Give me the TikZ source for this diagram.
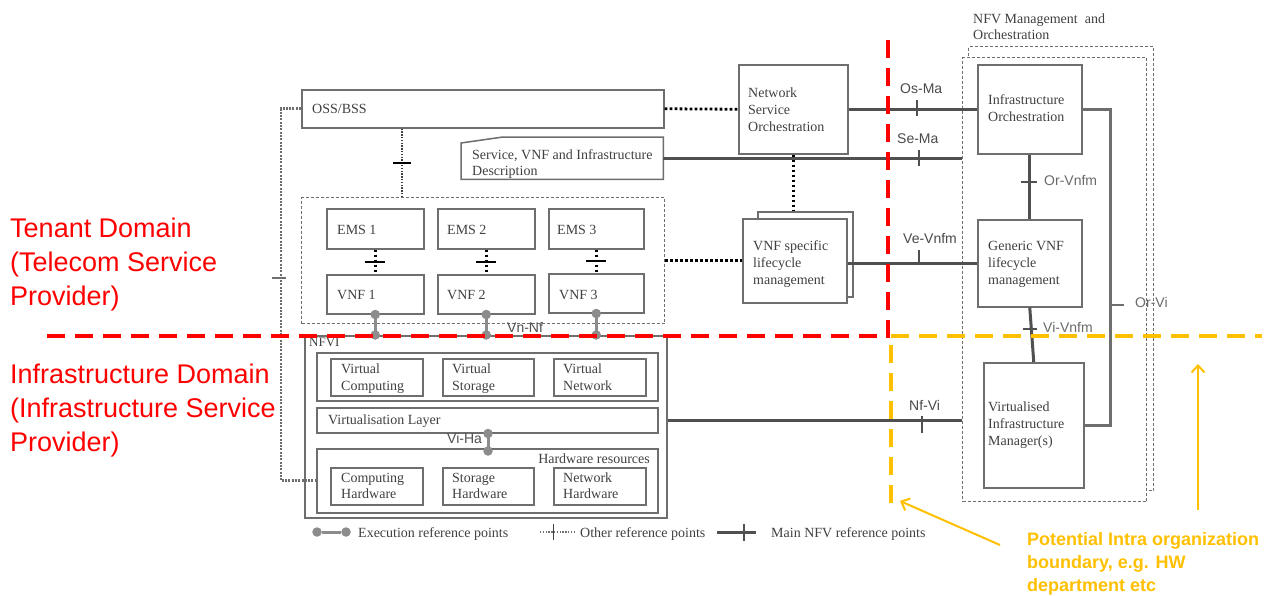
\documentclass[tikz,border=0pt]{standalone}
\usepackage{fontspec}
\setmainfont{Liberation Serif}
\newfontfamily\arialf{Liberation Sans}
\usetikzlibrary{arrows.meta,calc}
\definecolor{boxc}{HTML}{6E6E6E}
\definecolor{txtc}{HTML}{404040}
\definecolor{mainc}{HTML}{505050}
\definecolor{execc}{HTML}{8C8C8C}
\definecolor{redc}{HTML}{FF0000}
\definecolor{yelc}{HTML}{FFC000}
\definecolor{ifc}{HTML}{4A4A4A}
\definecolor{ifl}{HTML}{6A6A6A}
\begin{document}
\begin{tikzpicture}[x=1pt,y=-1pt,
  box/.style={draw=boxc, line width=1.5pt, fill=white, inner sep=0pt, anchor=north west},
  dbox/.style={draw=boxc, line width=1pt, dash pattern=on 3pt off 2pt, fill=white, inner sep=0pt, anchor=north west},
  txt/.style={font=\fontsize{14}{17}\selectfont, text=txtc, inner sep=0pt, anchor=base west, align=left},
  iflab/.style={font=\arialf\fontsize{14}{16}\selectfont, text=ifc, inner sep=0pt, anchor=base west},
  iflight/.style={font=\arialf\fontsize{14}{16}\selectfont, text=ifl, inner sep=0pt, anchor=base west},
  mainl/.style={draw=mainc, line width=3pt},
  tickm/.style={draw=mainc, line width=1.4pt},
  tickb/.style={draw=black, line width=2.4pt},
  othl/.style={draw=black, line width=2.8pt, dash pattern=on 2.8pt off 2.2pt},
  thinoth/.style={draw=txtc, line width=1.3pt, dash pattern=on 1.4pt off 1.4pt},
  leftdot/.style={draw=boxc, line width=2.8pt, dash pattern=on 2pt off 1.3pt},
  execl/.style={draw=execc, line width=3pt},
  edot/.style={circle, fill=execc, inner sep=0pt, minimum size=9.5pt},
  reddash/.style={draw=redc, line width=4.5pt, dash pattern=on 18pt off 10pt},
  yeldash/.style={draw=yelc, line width=4.5pt, dash pattern=on 18pt off 10pt},
  yarrow/.style={draw=yelc, line width=2pt, -{Straight Barb[length=7pt,width=13pt,line width=2pt]}},
  dom/.style={font=\arialf\fontsize{27}{34}\selectfont, text=redc, inner sep=0pt, anchor=base west, align=left},
  yel/.style={font=\arialf\bfseries\fontsize{18}{23}\selectfont, text=yelc, inner sep=0pt, anchor=base west, align=left}
]
\fill[white] (0,0) rectangle (1265,595);
\useasboundingbox (0,0) rectangle (1265,595);

% ---------- NFV MANO containers ----------
\node[dbox, minimum width=185, minimum height=444] (manob) at (968,46) {};
\node[dbox, minimum width=184, minimum height=444] (mano) at (962,57) {};
\node[txt] (manot) at (973,39) {NFV Management\ \ and\\[-1pt]Orchestration};

% ---------- Domain labels ----------
\node[dom] (tenant) at (10,305) {Tenant Domain\\(Telecom Service\\Provider)};
\node[dom] (infra) at (10,451) {Infrastructure Domain\\(Infrastructure Service\\Provider)};

% ---------- OSS/BSS and description ----------
\node[box, minimum width=362, minimum height=38] (oss) at (301,89) {};
\node[txt] (osst) at (312,113) {OSS/BSS};
\node[inner sep=0pt, anchor=north west, minimum width=202, minimum height=42] (desc) at (461,137) {};
\draw[draw=boxc, line width=1.5pt, fill=white] (desc.south west) -- ($(desc.north west)+(0,6)$) -- ($(desc.north west)+(42,0)$) -- (desc.north east) -- (desc.south east) -- cycle;
\node[txt] (desct) at (472,175) {Service, VNF and Infrastructure\\[-1pt]Description};

% ---------- EMS / VNF ----------
\node[dbox, minimum width=363, minimum height=126] (emsc) at (301,197) {};
\node[box, minimum width=97, minimum height=40] (ems1) at (326,208) {};
\node[box, minimum width=97, minimum height=40] (ems2) at (437,208) {};
\node[box, minimum width=95, minimum height=40] (ems3) at (548,208) {};
\node[box, minimum width=97, minimum height=39] (vnf1) at (326,274) {};
\node[box, minimum width=97, minimum height=39] (vnf2) at (437,274) {};
\node[box, minimum width=95, minimum height=39] (vnf3) at (548,273) {};
\node[txt] (ems1t) at (337,234) {EMS 1};
\node[txt] (ems2t) at (447,234) {EMS 2};
\node[txt] (ems3t) at (557,234) {EMS 3};
\node[txt] (vnf1t) at (337,299) {VNF 1};
\node[txt] (vnf2t) at (447,299) {VNF 2};
\node[txt] (vnf3t) at (559,299) {VNF 3};

% ---------- NFVI ----------
\node[box, minimum width=362, minimum height=182] (nfvi) at (304,335) {};
\node[txt, font=\fontsize{13}{15}\selectfont] (nfvit) at (309,346) {NFVI};
\node[box, minimum width=341, minimum height=48] (vrow) at (316,352) {};
\node[box, minimum width=92, minimum height=37] (vc) at (330,358) {};
\node[box, minimum width=91, minimum height=37] (vs) at (442,358) {};
\node[box, minimum width=92, minimum height=37] (vn) at (553,358) {};
\node[txt] (vct) at (341,390) {Virtual\\Computing};
\node[txt] (vst) at (452,390) {Virtual\\Storage};
\node[txt] (vnt) at (563,390) {Virtual\\Network};
\node[box, minimum width=341, minimum height=25] (vlayer) at (316,407) {};
\node[txt] (vlayert) at (328,424) {Virtualisation Layer};
\node[box, minimum width=341, minimum height=64] (hwr) at (316,448) {};
\node[txt, anchor=base east] (hwrt) at (650,463) {Hardware resources};
\node[box, minimum width=92, minimum height=37] (hc) at (330,467) {};
\node[box, minimum width=91, minimum height=37] (hs) at (442,467) {};
\node[box, minimum width=92, minimum height=37] (hn) at (553,467) {};
\node[txt] (hct) at (341,498) {Computing\\[-1pt]Hardware};
\node[txt] (hst) at (452,498) {Storage\\[-1pt]Hardware};
\node[txt] (hnt) at (563,498) {Network\\[-1pt]Hardware};

% ---------- NSO and VNF specific ----------
\node[box, minimum width=109, minimum height=89] (nso) at (738,64) {};
\node[txt] (nsot) at (748,131) {Network\\Service\\Orchestration};
\node[box, minimum width=95, minimum height=85] (vnfsb) at (757,211) {};
\node[box, minimum width=104, minimum height=84] (vnfs) at (742,218) {};
\node[txt] (vnfst) at (753,284) {VNF specific\\lifecycle\\management};

% ---------- MANO boxes ----------
\node[box, minimum width=104, minimum height=89] (io) at (977,64) {};
\node[txt] (iot) at (988,121) {Infrastructure\\Orchestration};
\node[box, minimum width=104, minimum height=87] (gen) at (977,219) {};
\node[txt] (gent) at (988,284) {Generic VNF\\lifecycle\\management};
\node[box, minimum width=100, minimum height=125] (vim) at (983,362) {};
\node[txt] (vimt) at (988,445) {Virtualised\\Infrastructure\\Manager(s)};

% ---------- Other reference points (dotted) ----------
\draw[othl] (oss.east) -- (nso.west);
\draw[othl] (emsc.east) -- (emsc.east -| vnfs.west);
\draw[othl] (nso.south) -- (nso.south |- vnfsb.north);
\coordinate (c402) at (402,0);
\draw[thinoth] (oss.south -| c402) -- (emsc.north -| c402);
\coordinate (tk1) at ($(oss.south -| c402)!0.5!(emsc.north -| c402)$);
\draw[tickb] ($(tk1)+(-9,0)$) -- ($(tk1)+(9,0)$);
\foreach \i in {1,2,3}{
  \draw[othl] (ems\i.south) -- (vnf\i.north);
  \coordinate (tke\i) at ($(ems\i.south)!0.5!(vnf\i.north)$);
  \draw[tickb] ($(tke\i)+(-10,0)$) -- ($(tke\i)+(10,0)$);
}
\draw[leftdot] (oss.west) -- ++(-20,0) |- (hwr.west);
\coordinate (ltk) at (281,278);
\draw[draw=boxc, line width=1.2pt] ($(ltk)+(-9,0)$) -- ($(ltk)+(5,0)$);

% ---------- Execution reference points ----------
\foreach \i in {1,2,3}{
  \draw[execl] (vnf\i.south) -- (vnf\i.south |- nfvi.north);
  \node[edot] (ea\i) at (vnf\i.south) {};
  \node[edot] (eb\i) at (vnf\i.south |- nfvi.north) {};
}
\node[iflab, text=mainc] (vnnf) at (507,332) {Vn-Nf};
\coordinate (viha) at (488,0);
\draw[execl] (vlayer.south -| viha) -- (hwr.north -| viha);
\node[edot] (vha) at (vlayer.south -| viha) {};
\node[edot] (vhb) at ($(hwr.north -| viha)+(0,3)$) {};
\node[iflab, text=mainc] (vihat) at (447,443) {Vi-Ha};

% ---------- Main NFV reference points ----------
\draw[mainl] (nso.east) -- (io.west);
\draw[tickm] (917,100) -- (917,116);
\node[iflab] (osma) at (900,93) {Os-Ma};
\draw[mainl] (desc.east) -- (desc.east -| mano.west);
\draw[tickm] (919,150) -- (919,166);
\node[iflab] (sema) at (897,143) {Se-Ma};
\draw[mainl] (vnfs.east |- gen.west) -- (gen.west);
\draw[tickm] (919,250) -- (919,263);
\node[iflab] (vevnfm) at (903,243) {Ve-Vnfm};
\draw[mainl] (vlayer.east -| nfvi.east) -- (vlayer.east -| mano.west);
\draw[tickm] (922,416) -- (922,433);
\node[iflab] (nfvi2) at (909,410) {Nf-Vi};
\draw[mainl] (io.south) -- (gen.north);
\draw[tickm] (1021,182) -- (1037,182);
\node[iflight] (orvnfm) at (1044,185) {Or-Vnfm};
\draw[mainl] (gen.south) -- (vim.north);
\draw[tickm] (1023,329) -- (1037,329);
\node[iflight] (vivnfm) at (1043,332) {Vi-Vnfm};
\draw[mainl, draw=boxc] (io.east) -- ++(28,0) |- (vim.east);
\draw[draw=boxc, line width=1.4pt] (1111,305) -- (1124,305);
\node[iflight] (orvi) at (1135,307) {Or-Vi};

% ---------- Legend ----------
\node[edot] (lg1a) at (317,532) {};
\node[edot] (lg1b) at (346,532) {};
\draw[execl] (lg1a) -- (lg1b);
\node[txt] (lg1t) at (358,537) {Execution reference points};
\coordinate (lg2a) at (540,532);
\coordinate (lg2b) at (575,532);
\draw[thinoth, draw=boxc] (lg2a) -- (lg2b);
\draw[draw=txtc, line width=1pt] (553,524) -- (553,540);
\node[txt] (lg2t) at (580,537) {Other reference points};
\coordinate (lg3a) at (717,532);
\coordinate (lg3b) at (756,532);
\draw[mainl] (lg3a) -- (lg3b);
\draw[tickm] (744,524) -- (744,541);
\node[txt] (lg3t) at (771,537) {Main NFV reference points};

% ---------- Boundaries ----------
\draw[reddash] (47,336) -- (888,336);
\draw[reddash] (888,40) -- (888,338);
\draw[yeldash] (891,336) -- (1262,336);
\draw[yeldash] (891,345) -- (891,503);

% ---------- Yellow annotation ----------
\node[yel] (pot) at (1027,591) {Potential Intra organization\\boundary, e.g. HW\\department etc};
\coordinate (ya1) at (1198,510);
\coordinate (ya2) at (1198,364);
\draw[yarrow] (ya1) -- (ya2);
\coordinate (yb1) at (1000,545);
\coordinate (yb2) at (900,501);
\draw[yarrow] (yb1) -- (yb2);
\end{tikzpicture}
\end{document}
